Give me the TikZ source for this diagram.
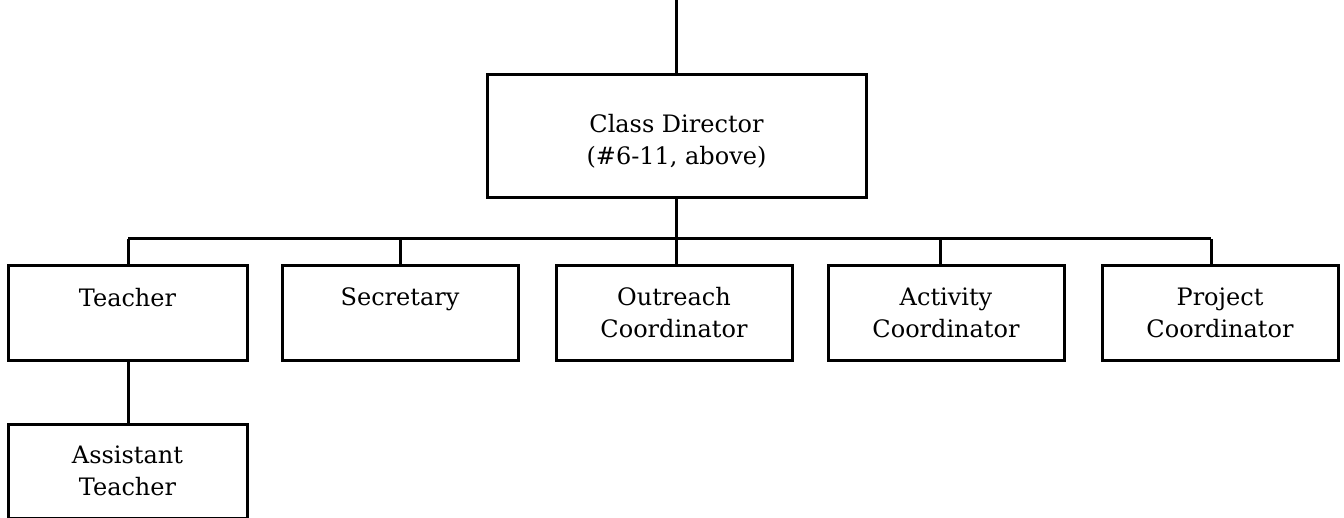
\documentclass[tikz,border=0pt]{standalone}
\usepackage{fontspec}
\setmainfont{DejaVu Serif}
\begin{document}
\begin{tikzpicture}[x=0.5pt,y=-0.5pt,line width=1.5pt,
  box/.style={draw,rectangle,line width=1.5pt,inner sep=0pt,minimum width=118pt,minimum height=47pt,align=center,font=\fontsize{12}{16}\selectfont},
  link/.style={draw,line width=1.5pt}]
\useasboundingbox (0,0) rectangle (1344,518);
\node[box,minimum width=189.5pt,minimum height=61.5pt] (cd) at (676.5,136.5) {\rule{0pt}{14pt}Class Director\\(\#6-11, above)};
\node[box,minimum width=119.5pt] (teach) at (127.5,313) {Teacher\\\mbox{}};
\node[box] (sec) at (400,313) {Secretary\\\mbox{}};
\node[box] (out) at (674,313) {Outreach\\Coordinator};
\node[box] (act) at (946,313) {Activity\\Coordinator};
\node[box] (proj) at (1220,313) {Project\\Coordinator};
\node[box,minimum width=119.5pt] (asst) at (127.5,471) {Assistant\\Teacher};
\coordinate (top) at (676,0);
\coordinate (b1) at (128,239);
\coordinate (b2) at (400,239);
\coordinate (b3) at (676,239);
\coordinate (b4) at (940,239);
\coordinate (b5) at (1211,239);
\draw[link] (top) -- (top |- cd.north);
\draw[link] (cd.south -| b3) -- (b3);
\draw[link] (b1) -- (b5);
\draw[link] (b1) -- (b1 |- teach.north);
\draw[link] (b2) -- (b2 |- sec.north);
\draw[link] (b3) -- (b3 |- out.north);
\draw[link] (b4) -- (b4 |- act.north);
\draw[link] (b5) -- (b5 |- proj.north);
\draw[link] (teach.south -| b1) -- (b1 |- asst.north);
\end{tikzpicture}
\end{document}
